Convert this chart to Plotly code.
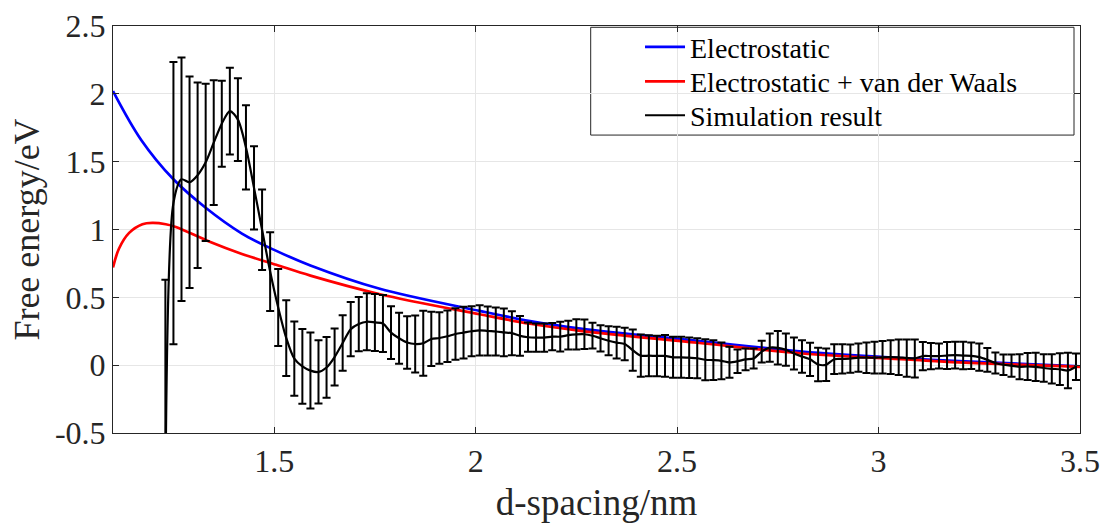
import plotly.graph_objects as go

# ---- theoretical curves ----
elec_d = [1.10, 1.17, 1.25, 1.33, 1.42, 1.50, 1.59, 1.76, 2.01, 2.135, 2.26, 2.55, 2.81, 3.07, 3.20, 3.50]
elec_e = [2.02, 1.66, 1.37, 1.16, 0.97, 0.85, 0.735, 0.565, 0.40, 0.325, 0.27, 0.18, 0.10, 0.05, 0.03, -0.008]

vdw_d = [1.10, 1.115, 1.14, 1.173, 1.198, 1.231, 1.256, 1.34, 1.42, 1.505, 1.59, 1.76, 2.01, 2.135, 2.26, 2.55, 2.81, 3.07, 3.20, 3.50]
vdw_e = [0.72, 0.86, 0.975, 1.039, 1.049, 1.039, 1.019, 0.91, 0.82, 0.74, 0.66, 0.525, 0.375, 0.305, 0.253, 0.165, 0.086, 0.042, 0.02, -0.012]

# ---- simulation result (mean and error) ----
sim_d = [1.23, 1.25, 1.27, 1.29, 1.31, 1.33, 1.35, 1.37, 1.39, 1.41,
         1.43, 1.45, 1.47, 1.49, 1.51, 1.53, 1.55, 1.57, 1.59, 1.61,
         1.63, 1.65, 1.67, 1.69, 1.71, 1.73, 1.75, 1.77, 1.79, 1.81,
         1.83, 1.85, 1.87, 1.89, 1.91, 1.93, 1.95, 1.97, 1.99, 2.01,
         2.03, 2.05, 2.07, 2.09, 2.11, 2.13, 2.15, 2.17, 2.19, 2.21,
         2.23, 2.25, 2.27, 2.29, 2.31, 2.33, 2.35, 2.37, 2.39, 2.41,
         2.43, 2.45, 2.47, 2.49, 2.51, 2.53, 2.55, 2.57, 2.59, 2.61,
         2.63, 2.65, 2.67, 2.69, 2.71, 2.73, 2.75, 2.77, 2.79, 2.81,
         2.83, 2.85, 2.87, 2.89, 2.91, 2.93, 2.95, 2.97, 2.99, 3.01,
         3.03, 3.05, 3.07, 3.09, 3.11, 3.13, 3.15, 3.17, 3.19, 3.21,
         3.23, 3.25, 3.27, 3.29, 3.31, 3.33, 3.35, 3.37, 3.39, 3.41,
         3.43, 3.45, 3.47, 3.49]
sim_mean = [-1.0, 1.195, 1.37, 1.348, 1.40, 1.495, 1.64, 1.78, 1.873, 1.81,
            1.605, 1.307, 0.998, 0.69, 0.425, 0.20, 0.048, -0.009, -0.04, -0.05,
            -0.017, 0.06, 0.163, 0.265, 0.303, 0.32, 0.315, 0.307, 0.24, 0.198,
            0.167, 0.156, 0.162, 0.193, 0.20, 0.213, 0.23, 0.24, 0.25, 0.257,
            0.252, 0.248, 0.242, 0.236, 0.216, 0.206, 0.203, 0.203, 0.21, 0.21,
            0.221, 0.227, 0.228, 0.217, 0.198, 0.18, 0.166, 0.156, 0.11, 0.07,
            0.07, 0.068, 0.068, 0.058, 0.058, 0.055, 0.051, 0.04, 0.037, 0.032,
            0.021, 0.029, 0.043, 0.049, 0.10, 0.129, 0.128, 0.114, 0.086, 0.064,
            0.043, 0.005, 0.003, 0.044, 0.046, 0.048, 0.055, 0.055, 0.055, 0.058,
            0.059, 0.058, 0.052, 0.05, 0.067, 0.067, 0.067, 0.071, 0.074, 0.071,
            0.069, 0.059, 0.039, 0.016, 0.003, -0.004, -0.012, -0.01, -0.012, -0.021,
            -0.027, -0.03, -0.04, -0.012]
sim_err = [1.63, 1.04, 0.897, 0.78, 0.684, 0.58, 0.46, 0.317, 0.32, 0.305,
           0.31, 0.307, 0.297, 0.29, 0.283, 0.279, 0.273, 0.276, 0.28, 0.233,
           0.224, 0.21, 0.205, 0.20, 0.20, 0.21, 0.21, 0.21, 0.195, 0.188,
           0.194, 0.21, 0.24, 0.20, 0.19, 0.19, 0.19, 0.19, 0.185, 0.185,
           0.18, 0.177, 0.176, 0.162, 0.147, 0.108, 0.104, 0.104, 0.10, 0.11,
           0.106, 0.112, 0.108, 0.095, 0.097, 0.107, 0.117, 0.119, 0.152, 0.156,
           0.151, 0.149, 0.154, 0.151, 0.151, 0.149, 0.147, 0.151, 0.147, 0.135,
           0.114, 0.086, 0.08, 0.074, 0.08, 0.104, 0.123, 0.119, 0.118, 0.12,
           0.122, 0.123, 0.12, 0.11, 0.108, 0.104, 0.104, 0.112, 0.117, 0.12,
           0.125, 0.131, 0.137, 0.14, 0.104, 0.097, 0.092, 0.10, 0.098, 0.102,
           0.098, 0.10, 0.088, 0.077, 0.076, 0.082, 0.092, 0.10, 0.104, 0.102,
           0.108, 0.117, 0.131, 0.098]

x_ticks = [1.5, 2, 2.5, 3, 3.5]
x_ticktext = ["1.5", "2", "2.5", "3", "3.5"]
y_ticks = [-0.5, 0, 0.5, 1, 1.5, 2, 2.5]
y_ticktext = ["-0.5", "0", "0.5", "1", "1.5", "2", "2.5"]

FONT = "Liberation Serif, Times New Roman, serif"

fig = go.Figure()
fig.add_trace(go.Scatter(x=elec_d, y=elec_e, mode="lines", name="Electrostatic",
                         legend="legend",
                         line=dict(color="#0000ff", width=2.7, shape="spline")))
fig.add_trace(go.Scatter(x=vdw_d, y=vdw_e, mode="lines", name="Electrostatic + van der Waals",
                         legend="legend2",
                         line=dict(color="#ff0000", width=2.7, shape="spline")))
fig.add_trace(go.Scatter(x=sim_d, y=sim_mean, mode="lines", name="Simulation result",
                         legend="legend3",
                         line=dict(color="black", width=2.2, shape="spline", smoothing=0.8),
                         error_y=dict(type="data", array=sim_err, visible=True,
                                      color="black", thickness=2, width=4)))

axis_common = dict(showline=True, linecolor="#262626", linewidth=1, mirror="ticks",
                   ticks="inside", ticklen=6, tickcolor="#262626",
                   showgrid=True, gridcolor="#e6e6e6", gridwidth=1, zeroline=False,
                   automargin=False,
                   tickfont=dict(family=FONT, size=32, color="#262626"))

leg_common = dict(xanchor="left", yanchor="middle", bgcolor="rgba(0,0,0,0)", borderwidth=0,
                  font=dict(family=FONT, size=28, color="black"), itemwidth=40)

fig.update_layout(
    width=1102, height=525,
    margin=dict(l=113, r=22, t=26, b=92),
    paper_bgcolor="white", plot_bgcolor="white",
    font=dict(family=FONT, color="#262626"),
    showlegend=True,
    legend=dict(x=0.545, y=0.948, **leg_common),
    legend2=dict(x=0.545, y=0.863, **leg_common),
    legend3=dict(x=0.545, y=0.780, **leg_common),
    shapes=[dict(type="rect", xref="paper", yref="paper",
                 x0=0.494, x1=0.9938, y0=0.732, y1=0.9968,
                 line=dict(color="#262626", width=1), fillcolor="white", layer="below")],
)
fig.update_xaxes(range=[1.1, 3.5], tickvals=x_ticks, ticktext=x_ticktext,
                 title=dict(text="d-spacing/nm", font=dict(family=FONT, size=37, color="#262626"), standoff=10),
                 **axis_common)
fig.update_yaxes(range=[-0.5, 2.5], tickvals=y_ticks, ticktext=y_ticktext,
                 title=dict(text="Free energy/eV", font=dict(family=FONT, size=36, color="#262626"), standoff=4),
                 **axis_common)

fig.write_html("out.html", config={"displayModeBar": False},
               post_script="document.body.style.margin='0';document.body.style.overflow='hidden';")
